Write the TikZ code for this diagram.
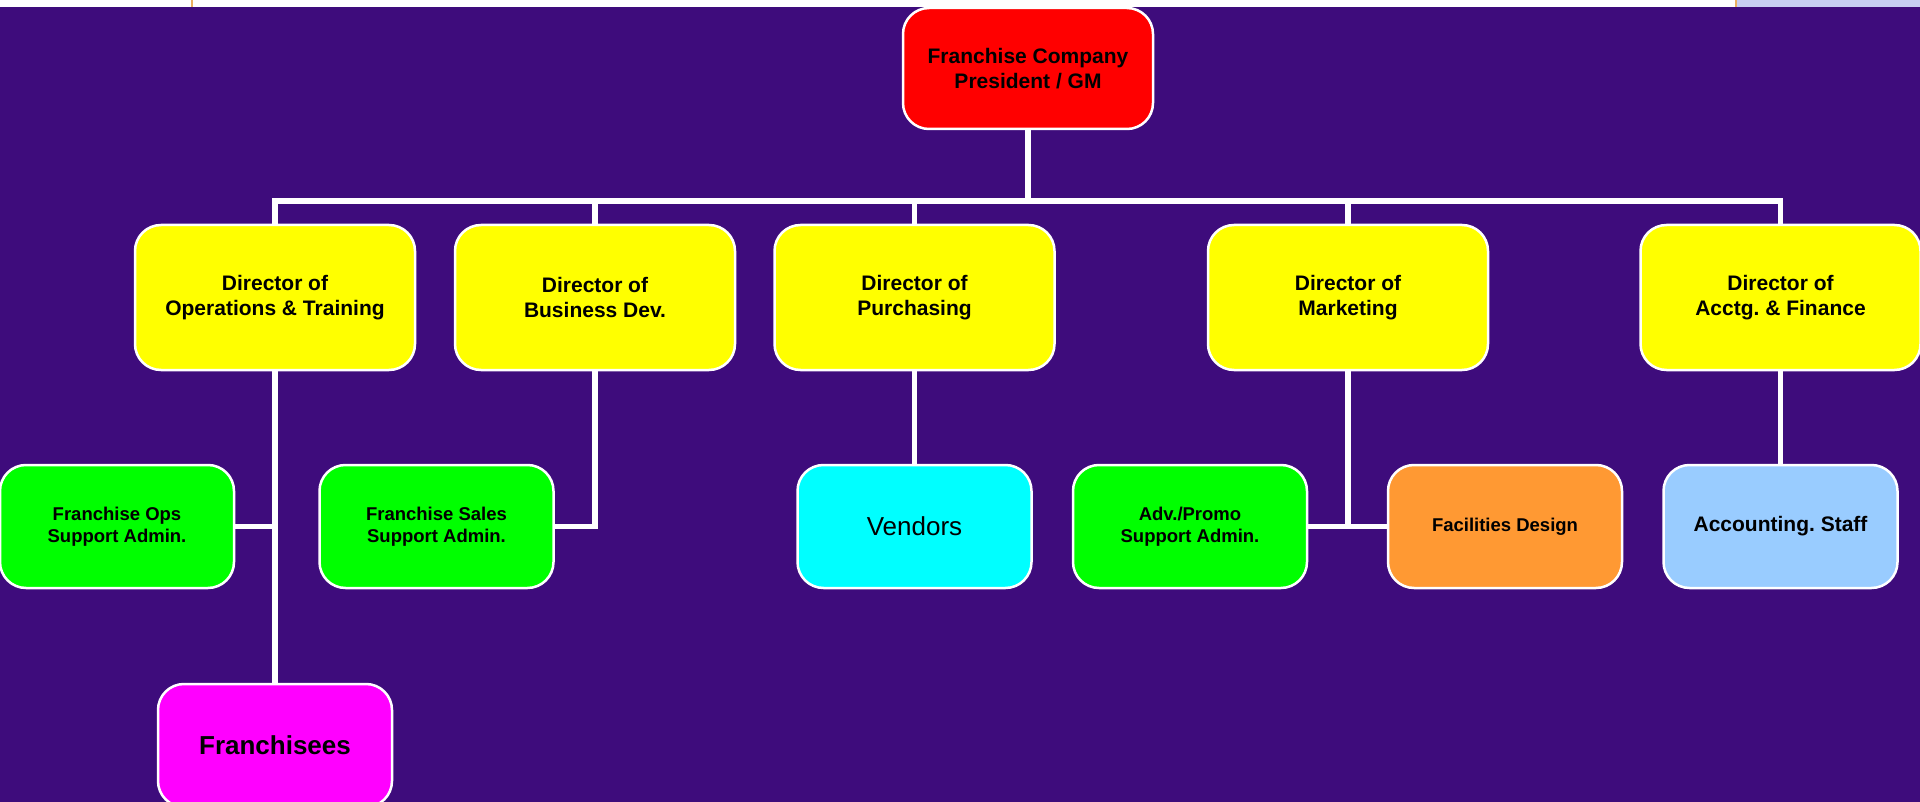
\documentclass[tikz,border=0pt]{standalone}
\usepackage{fontspec}
\setmainfont{Liberation Sans}
\frenchspacing

\definecolor{bgpurple}{RGB}{62,12,124}
\definecolor{topstrip}{RGB}{200,206,242}
\definecolor{stripline}{RGB}{236,176,96}
\definecolor{presred}{RGB}{255,0,0}
\definecolor{diryellow}{RGB}{255,255,0}
\definecolor{admgreen}{RGB}{0,255,0}
\definecolor{vendcyan}{RGB}{0,255,255}
\definecolor{facorange}{RGB}{255,153,51}
\definecolor{acctblue}{RGB}{153,204,255}
\definecolor{frmagenta}{RGB}{255,0,255}

\begin{document}
\begin{tikzpicture}[x=1pt,y=-1pt,
  box/.style={draw=white, line width=2.5pt, rounded corners=26pt,
    align=center, inner sep=0pt, text=black,
    font=\bfseries\fontsize{21}{25.5}\selectfont},
  dirbox/.style={box, fill=diryellow, minimum width=280pt, minimum height=145pt},
  subbox/.style={box, minimum width=234pt, minimum height=123pt},
  smalltext/.style={font=\bfseries\fontsize{18.5}{22}\selectfont},
  link/.style={draw=white, line width=5.5pt}]

\newcommand\RowDir{297.5}
\newcommand\RowSub{526.5}

  %% background
  \fill[bgpurple] (0,0) rectangle (1920,802);
  \useasboundingbox (0,0) rectangle (1920,802);
  \fill[white] (0,0) rectangle (1920,7);
  \fill[topstrip] (1736,0) rectangle (1920,7);
  \draw[stripline, line width=1.5pt] (192,0) -- (192,7);
  \draw[stripline, line width=1.5pt] (1736,0) -- (1736,7);

  %% president
  \node[box, fill=presred, minimum width=250pt, minimum height=121pt]
  (pres) at (1028,68.5) {Franchise Company\\President / GM};

  %% directors
  \node[dirbox] (opsdir) at (275,\RowDir) {Director of\\Operations \& Training};
  \node[dirbox] (bizdir) at (595,\RowDir) {Director of\\Business Dev.};
  \node[dirbox] (purdir) at (914.5,\RowDir) {Director of\\Purchasing};
  \node[dirbox] (mktdir) at (1348,\RowDir) {Director of\\Marketing};
  \node[dirbox] (findir) at (1780.5,\RowDir) {Director of\\Acctg. \& Finance};

  %% staff
  \node[subbox, smalltext, fill=admgreen] (opsadm) at (117,\RowSub)
  {Franchise Ops\\Support Admin.};
  \node[subbox, smalltext, fill=admgreen] (salesadm) at (436.5,\RowSub)
  {Franchise Sales\\Support Admin.};
  \node[subbox, fill=vendcyan, font=\fontsize{26}{30}\selectfont] (vendors)
  at (914.5,\RowSub) {Vendors};
  \node[subbox, smalltext, fill=admgreen] (advadm) at (1190,\RowSub)
  {Adv./Promo\\Support Admin.};
  \node[subbox, smalltext, fill=facorange] (facil) at (1505,\RowSub)
  {Facilities Design};
  \node[subbox, fill=acctblue] (acctstaff) at (1780.5,\RowSub)
  {Accounting. Staff};
  \node[subbox, fill=frmagenta, font=\bfseries\fontsize{26}{30}\selectfont]
  (franch) at (275,745.5) {Franchisees};

  %% president to directors
  \coordinate (bus) at (1028,201);
  \draw[link] (pres) -- (bus);
  \draw[link] (bus) -| (opsdir);
  \draw[link] (bus) -| (bizdir);
  \draw[link] (bus) -| (purdir);
  \draw[link] (bus) -| (mktdir);
  \draw[link] (bus) -| (findir);

  %% directors to staff
  \draw[link] (opsdir) -- (franch);
  \draw[link] (opsadm) -- (opsadm -| opsdir);
  \draw[link] (bizdir) |- (salesadm);
  \draw[link] (purdir) -- (vendors);
  \draw[link] (mktdir) -- (mktdir |- advadm);
  \draw[link] (advadm) -- (facil);
  \draw[link] (findir) -- (acctstaff);

\end{tikzpicture}
\end{document}
